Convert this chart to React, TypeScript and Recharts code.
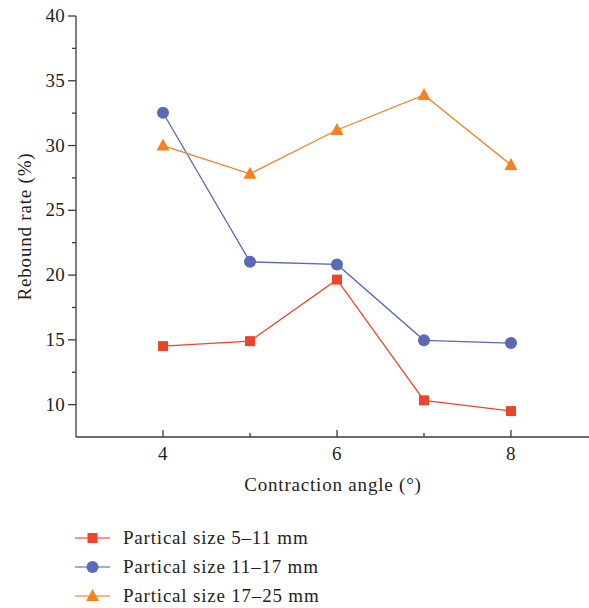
import React from 'react';
import { LineChart, Line, XAxis, YAxis } from 'recharts';

const angles = [4, 5, 6, 7, 8];
const size5to11 = [14.52, 14.9, 19.65, 10.33, 9.5];
const size11to17 = [32.53, 21.02, 20.82, 14.96, 14.75];
const size17to25 = [30.0, 27.82, 31.2, 33.9, 28.5];

const xTicks = [4, 5, 6, 7, 8];
const xLabelTicks = [4, 6, 8];
const yTicks = [10, 12.5, 15, 17.5, 20, 22.5, 25, 27.5, 30, 32.5, 35, 37.5, 40];
const yLabelTicks = [10, 15, 20, 25, 30, 35, 40];

const RED = '#ee4528';
const BLUE = '#5a68b8';
const ORANGE = '#f58220';
const INK = '#231f20';
const AXIS = '#3a3a3a';
const FONT = "'Liberation Serif', 'DejaVu Serif', serif";

const data = angles.map((a, i) => ({
  angle: a,
  s1: size5to11[i],
  s2: size11to17[i],
  s3: size17to25[i],
}));

const Square = ({ cx, cy, fill }: any) => <rect x={cx - 5} y={cy - 5} width={10} height={10} fill={fill} />;
const Circle = ({ cx, cy, fill }: any) => <circle cx={cx} cy={cy} r={6} fill={fill} />;
const Triangle = ({ cx, cy, fill }: any) => (
  <polygon points={`${cx},${cy - 7} ${cx + 6.5},${cy + 5} ${cx - 6.5},${cy + 5}`} fill={fill} />
);

const dotOf = (Shape: any, fill: string) => (props: any) => (
  <Shape key={`${props.index}`} cx={props.cx} cy={props.cy} fill={fill} />
);

const BottomTick = ({ x, y, payload }: any) => {
  const major = xLabelTicks.includes(payload.value);
  return (
    <g>
      <line x1={x} x2={x} y1={y} y2={y - (major ? 7 : 4)} stroke={AXIS} strokeWidth={1.3} />
      {major && (
        <text x={x} y={y + 23} textAnchor="middle" fontSize={19} letterSpacing={0.3} fontFamily={FONT} fill={INK}>
          {payload.value}
        </text>
      )}
    </g>
  );
};

const TopTick = ({ x, y, payload }: any) => {
  const major = xLabelTicks.includes(payload.value);
  return <line x1={x} x2={x} y1={y} y2={y + (major ? 7 : 5)} stroke={AXIS} strokeWidth={1.3} />;
};

const LeftTick = ({ x, y, payload }: any) => {
  const major = yLabelTicks.includes(payload.value);
  return (
    <g>
      <line x1={x} x2={x - (major ? 8 : 4)} y1={y} y2={y} stroke={AXIS} strokeWidth={1.3} />
      {major && (
        <text x={x - 11} y={y + 6} textAnchor="end" fontSize={19} letterSpacing={0.3} fontFamily={FONT} fill={INK}>
          {payload.value}
        </text>
      )}
    </g>
  );
};

const XLabel = ({ viewBox }: any) => (
  <text
    x={viewBox.x + viewBox.width / 2 - 4}
    y={viewBox.y + 54}
    textAnchor="middle"
    fontSize={19}
    letterSpacing={0.8}
    fontFamily={FONT}
    fill={INK}
  >
    Contraction angle (°)
  </text>
);

const YLabel = ({ viewBox }: any) => {
  const x = viewBox.x + 31;
  const y = viewBox.y + viewBox.height / 2;
  return (
    <text
      x={x}
      y={y}
      transform={`rotate(-90, ${x}, ${y})`}
      textAnchor="middle"
      fontSize={19}
      letterSpacing={0.8}
      fontFamily={FONT}
      fill={INK}
    >
      Rebound rate (%)
    </text>
  );
};

const legendItems = [
  { label: 'Partical size 5–11 mm', color: RED, shape: Square },
  { label: 'Partical size 11–17 mm', color: BLUE, shape: Circle },
  { label: 'Partical size 17–25 mm', color: ORANGE, shape: Triangle },
];

export default function App() {
  return (
    <div style={{ position: 'absolute', left: 0, top: 0, width: 589, height: 608, overflow: 'hidden', background: '#fff' }}>
      <LineChart width={625} height={608} data={data} margin={{ top: 16, right: 27, bottom: 111, left: 0 }}>
        <XAxis
          dataKey="angle"
          type="number"
          domain={[3, 9]}
          ticks={xTicks}
          interval={0}
          tickSize={0}
          tickMargin={0}
          tick={<BottomTick />}
          height={60}
          stroke={AXIS}
          strokeWidth={1.3}
          label={<XLabel />}
        />
        <XAxis
          xAxisId="top"
          orientation="top"
          dataKey="angle"
          type="number"
          domain={[3, 9]}
          ticks={xTicks}
          interval={0}
          tickSize={0}
          tickMargin={0}
          tick={<TopTick />}
          height={0}
          stroke={AXIS}
          strokeWidth={1.3}
        />
        <YAxis
          type="number"
          domain={[7.5, 40]}
          ticks={yTicks}
          interval={0}
          tickSize={0}
          tickMargin={0}
          tick={<LeftTick />}
          width={76}
          stroke={AXIS}
          strokeWidth={1.3}
          label={<YLabel />}
        />
        <Line dataKey="s1" stroke={RED} strokeWidth={1.3} dot={dotOf(Square, RED)} isAnimationActive={false} />
        <Line dataKey="s2" stroke={BLUE} strokeWidth={1.3} dot={dotOf(Circle, BLUE)} isAnimationActive={false} />
        <Line dataKey="s3" stroke={ORANGE} strokeWidth={1.3} dot={dotOf(Triangle, ORANGE)} isAnimationActive={false} />
      </LineChart>
      <svg style={{ position: 'absolute', left: 0, top: 520 }} width={400} height={88}>
        {legendItems.map((item, i) => {
          const cy = 18 + i * 29;
          const Shape = item.shape;
          return (
            <g key={item.label}>
              <line x1={75} x2={110} y1={cy} y2={cy} stroke={item.color} strokeWidth={1.3} opacity={0.75} />
              <Shape cx={92.5} cy={cy} fill={item.color} />
              <text x={123} y={cy + 6} fontSize={19} letterSpacing={0.8} fontFamily={FONT} fill={INK}>
                {item.label}
              </text>
            </g>
          );
        })}
      </svg>
    </div>
  );
}
